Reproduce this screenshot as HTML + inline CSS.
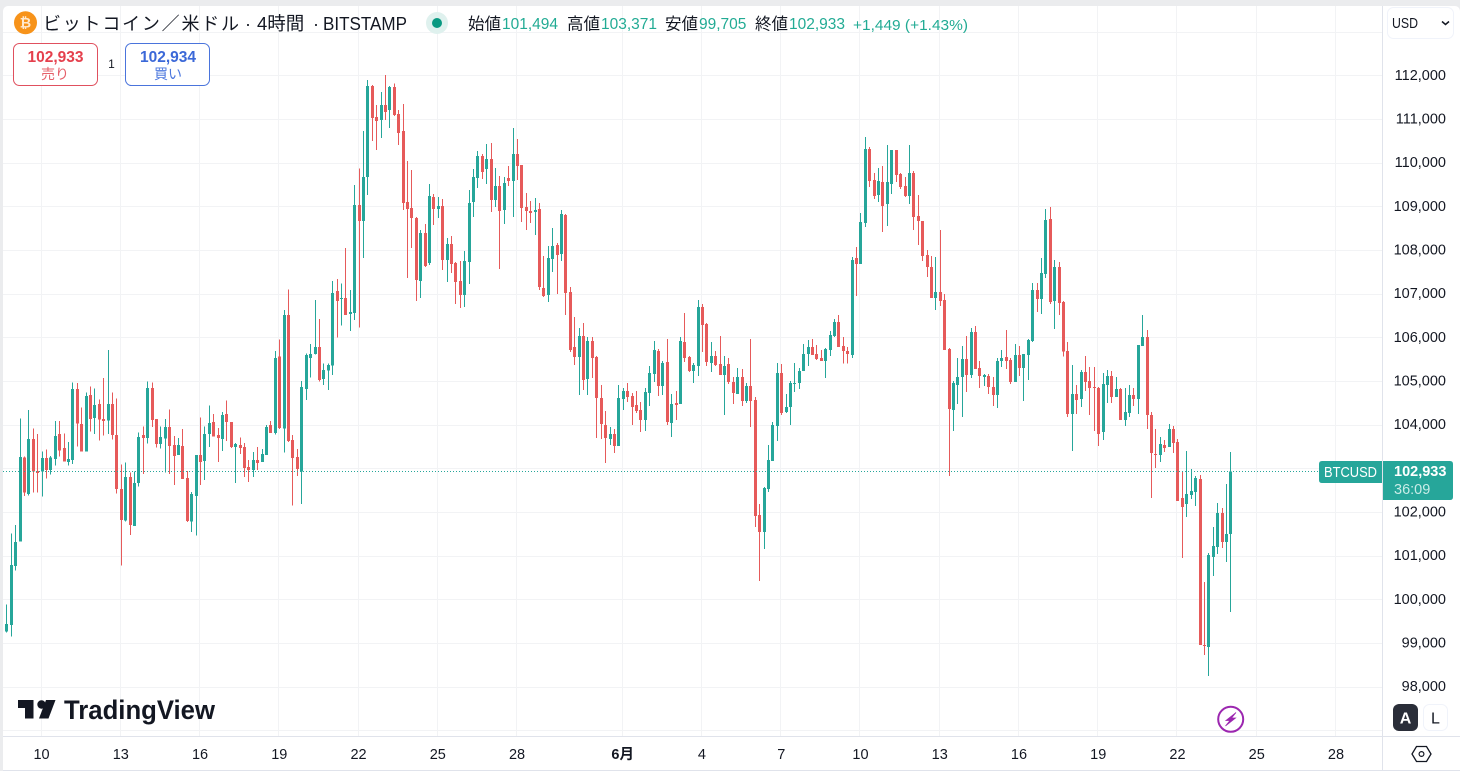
<!DOCTYPE html>
<html lang="ja">
<head>
<meta charset="utf-8">
<title>BTCUSD 4時間 チャート</title>
<style>
html,body{margin:0;padding:0;background:#fff;width:1460px;height:776px;overflow:hidden}
svg{display:block;font-family:"Liberation Sans","Noto Sans CJK JP",sans-serif}
</style>
</head>
<body>
<svg id="chart" width="1460" height="776" viewBox="0 0 1460 776">
  <rect x="0" y="0" width="1460" height="776" fill="#ebecee"/>
  <rect x="3" y="6" width="1457" height="770" rx="5" fill="#ffffff"/>
  <g id="grid"></g>

  <g>
    <path d="M18 700H33.500V718.500H25V708H18Z" fill="#131722"/>
    <circle cx="41.500" cy="704.500" r="4.200" fill="#131722"/>
    <path d="M46 700H55.500L48.500 718.500H39Z" fill="#131722"/>
    <text x="64" y="719" font-size="26.500" font-weight="700" fill="#131722" textLength="151" lengthAdjust="spacingAndGlyphs">TradingView</text>
  </g>

  <g id="candles"></g>
  <line id="last-price-line" x1="3" x2="1319" stroke="#26a69a" stroke-width="1" stroke-dasharray="1 2"/>

  <g>
    <circle cx="25.500" cy="22.700" r="11.500" fill="#f7931a"/>
    <text x="25.500" y="27.500" font-size="14" font-weight="700" fill="#ffe9cf" text-anchor="middle">₿</text>
    <text x="43" y="30" font-size="18" fill="#131722" textLength="196">ビットコイン／米ドル</text>
    <text x="245" y="30" font-size="18" fill="#131722">·</text>
    <text x="257" y="30" font-size="18.500" fill="#131722">4時間</text>
    <text x="313" y="30" font-size="18" fill="#131722">·</text>
    <text x="323" y="30" font-size="18" fill="#131722" textLength="84" lengthAdjust="spacingAndGlyphs">BITSTAMP</text>
    <circle cx="437" cy="23" r="11" fill="#dff1ee"/>
    <circle cx="437" cy="23" r="5" fill="#089981"/>

    <text x="468" y="29.500" font-size="16.500" fill="#131722">始値</text>
    <text x="502" y="29" font-size="15.500" fill="#22ab94">101,494</text>
    <text x="567" y="29.500" font-size="16.500" fill="#131722">高値</text>
    <text x="601" y="29" font-size="15.500" fill="#22ab94">103,371</text>
    <text x="665" y="29.500" font-size="16.500" fill="#131722">安値</text>
    <text x="699" y="29" font-size="15.500" fill="#22ab94">99,705</text>
    <text x="755" y="29.500" font-size="16.500" fill="#131722">終値</text>
    <text x="789" y="29" font-size="15.500" fill="#22ab94">102,933</text>
    <text x="853" y="30" font-size="15" fill="#22ab94" textLength="115" lengthAdjust="spacingAndGlyphs">+1,449 (+1.43%)</text>
  </g>

  <g>
    <rect x="13.500" y="43.500" width="84" height="42" rx="6" fill="#ffffff" stroke="#e0505e"/>
    <text x="55.500" y="62" font-size="15.500" font-weight="700" fill="#e5404d" text-anchor="middle">102,933</text>
    <text x="55" y="79" font-size="14" fill="#e5606a" text-anchor="middle">売り</text>
  </g>
  <text x="111.500" y="68" font-size="12" fill="#131722" text-anchor="middle">1</text>
  <g>
    <rect x="125.500" y="43.500" width="84" height="42" rx="6" fill="#ffffff" stroke="#4a74dc"/>
    <text x="168" y="62" font-size="15.500" font-weight="700" fill="#3b68d8" text-anchor="middle">102,934</text>
    <text x="168" y="79" font-size="14" fill="#4d78de" text-anchor="middle">買い</text>
  </g>

  <line x1="1382.500" x2="1382.500" y1="6" y2="770" stroke="#e0e3eb"/>
  <line x1="3" x2="1460" y1="736.500" y2="736.500" stroke="#e0e3eb"/>
  <line x1="3" x2="1460" y1="770.500" y2="770.500" stroke="#e0e3eb"/>
  <rect x="0" y="771" width="1460" height="5" fill="#ffffff"/>

  <g id="price-axis"></g>
  <g id="time-axis"></g>

  <g>
    <rect x="1387.500" y="7.500" width="66" height="31" rx="6" fill="#ffffff" stroke="#f0f3fa"/>
    <text x="1392" y="28" font-size="14.500" fill="#131722" textLength="26" lengthAdjust="spacingAndGlyphs">USD</text>
    <path d="M1442 21.500L1445.500 24.500L1449 21.500" fill="none" stroke="#131722" stroke-width="1.500"/>
  </g>

  <g>
    <path d="M1322 461H1382V483H1322Q1319 483 1319 480V464Q1319 461 1322 461Z" fill="#26a69a"/>
    <text x="1324" y="477" font-size="14.500" fill="#ffffff" textLength="53" lengthAdjust="spacingAndGlyphs">BTCUSD</text>
    <path d="M1383 461H1450Q1453 461 1453 464V497Q1453 500 1450 500H1383Z" fill="#26a69a"/>
    <text x="1394" y="476" font-size="14.500" font-weight="700" fill="#ffffff">102,933</text>
    <text x="1394" y="494" font-size="14.500" fill="#c9ece7">36:09</text>
  </g>

  <g>
    <circle cx="1230.700" cy="719.300" r="12.500" fill="#ffffff" stroke="#9c27b0" stroke-width="2"/>
    <path d="M1236 712.500L1226 720.500H1230L1225.500 726L1235.500 718H1231.500Z" fill="#9c27b0" stroke="#9c27b0" stroke-width="0.800"/>
  </g>

  <g>
    <rect x="1393" y="704" width="25" height="27" rx="6" fill="#2a2e39"/>
    <text x="1405.500" y="723.500" font-size="16" font-weight="700" fill="#ffffff" text-anchor="middle">A</text>
  </g>
  <g>
    <rect x="1423.500" y="704.500" width="24" height="26" rx="6" fill="#ffffff" stroke="#f0f3fa"/>
    <text x="1435.500" y="723.500" font-size="16" fill="#131722" text-anchor="middle">L</text>
  </g>
  <g>
    <path d="M1416.500 746.500H1426.500L1431 754L1426.500 761.500H1416.500L1412 754Z" fill="none" stroke="#131722" stroke-width="1.300"/>
    <circle cx="1421.500" cy="754" r="2.400" fill="none" stroke="#131722" stroke-width="1.200"/>
  </g>
</svg>

<script>
const priceTicks = [113000,112000,111000,110000,109000,108000,107000,106000,105000,104000,103000,102000,101000,100000,99000,98000,97000];
const priceTickLabels = ["","112,000","111,000","110,000","109,000","108,000","107,000","106,000","105,000","104,000","103,000","102,000","101,000","100,000","99,000","98,000",""];
const timeTickLabels = ["10","13","16","19","22","25","28","6月","4","7","10","13","16","19","22","25","28"];
const timeTickBars = [8,26,44,62,80,98,116,140,158,176,194,212,230,248,266,284,302];
const lastPrice = 102933;

const opens = [
99260,99413,100764,101321,103245,102413,103672,102939,102924,103237,
102962,103214,103786,103466,103145,103191,104817,104015,103382,104680,
104153,104473,104130,104092,104473,103764,102527,101810,102802,101680,
102664,103764,103695,104840,104130,103557,103687,103947,103535,103306,
103512,102779,101779,102367,103306,103168,103786,104061,103764,103672,
104244,104061,103489,103535,103489,103031,102962,103191,103145,103306,
103993,103809,105558,103909,106512,103649,103260,102924,104817,105527,
105619,105779,105046,105237,105352,107061,106878,106901,106535,106557,
109031,108664,109672,111756,111046,110977,111321,111206,111733,111114,
110725,109099,108962,108733,107290,108389,107702,109214,108939,109008,
107771,108138,107702,107290,106970,107725,109099,109649,110153,109855,
110084,109145,109466,108916,109649,109580,110198,109947,108985,108893,
108870,108939,107130,106970,107794,108115,107909,108802,107038,105779,
105550,106031,105046,105916,105550,104611,103993,103672,103787,103512,
104588,104771,104657,104451,104336,104107,104725,105160,105687,104886,
105435,104038,104496,104474,105893,105550,105229,105344,106695,106305,
105412,105573,105389,105138,105389,104977,104703,105092,104542,104886,
104565,101932,101542,102527,103168,103970,105183,104290,104405,104931,
104954,105229,105618,105779,105618,105527,105458,105710,106031,106351,
105802,105687,105596,107817,107680,108618,110313,109603,109260,109557,
109053,109511,110290,109740,109466,109237,109763,108779,108664,107886,
107611,106901,107038,106855,105733,104336,104909,105092,105504,105138,
106122,105298,105092,105115,104863,104680,105458,105550,105481,104977,
105596,105298,105596,105916,107084,106878,107451,108710,106832,107611,
106809,105687,104245,104702,104588,105206,105000,104863,104840,103832,
104909,105115,104634,104817,104107,104267,104680,104588,105802,106008,
104222,103329,103306,103535,103489,103901,103603,102321,102184,102390,
102458,102756,98955,98909,100970,101199,101977,101313,101494];

const highs = [
99886,101512,101703,104145,103267,104336,103916,103786,103390,103435,
103283,104084,104084,103802,103603,104970,104954,104397,104741,104878,
104832,104580,105069,105710,104741,104603,103092,103138,102909,102932,
103825,103962,104993,104970,104130,103962,104130,104351,103741,103695,
103901,102939,102458,103306,104168,103962,104443,104244,103924,104290,
104557,104061,103580,103710,103580,103191,103374,103489,103443,103993,
104084,105687,105955,106626,107099,103764,103443,105000,105634,105848,
106855,106420,105405,105405,107290,107336,107237,108046,107084,109489,
109870,110725,111893,111779,111321,111618,112008,111756,111817,111206,
111343,110038,109832,108756,108458,108596,109512,109283,109214,109168,
108275,108321,107725,107748,107977,109374,109855,110267,110198,110427,
110450,109878,109695,109672,109924,110794,110542,109947,109305,109122,
109191,109076,107863,108092,108504,108160,108916,108825,107153,106466,
106214,106328,106008,106008,105573,104909,104313,103947,103901,104909,
104840,104954,104725,104771,104519,104840,105344,105916,105733,105458,
105962,104703,104771,106008,106557,105573,105412,106855,106763,106328,
105893,105687,106031,105573,105527,105092,105298,105275,104954,105962,
104634,102184,102573,103535,104061,105412,105389,104703,105000,105412,
105298,105847,105939,105962,105825,105710,105756,106145,106420,106512,
106008,105779,107840,108069,108847,110588,110359,109763,109878,109924,
110405,110290,110290,109763,109672,110405,109809,109260,108664,108000,
107863,107840,108458,106993,105756,105000,105527,105802,106031,106214,
106260,105458,105161,105161,105092,105527,105710,106168,105527,105848,
105802,105619,105962,107244,107244,107817,108939,108985,107771,107725,
106832,105893,105367,104909,105252,105573,105321,105321,104863,105183,
105252,105229,105092,104840,104840,104909,104840,105825,106512,106168,
104290,103901,103718,103649,104016,103970,103672,102916,103397,102985,
102825,102848,100397,101062,101657,102206,102092,102642,103371];

const lows = [
99237,99146,100657,101321,102367,102374,102443,102443,102351,102764,
102855,103061,103267,103153,103061,103099,103496,103382,103382,103840,
103786,103634,103748,103786,103664,102428,100771,101779,101474,101680,
102580,102871,103565,103947,103474,103458,102901,102871,102619,103306,
102756,101771,101542,101458,102619,102733,103489,103725,103145,103397,
103626,103466,102664,103329,102802,102687,102802,102962,103145,103306,
103809,103771,103900,103360,103600,102145,102825,102184,104565,105077,
105612,104985,104909,104794,105138,105993,106267,106512,106145,106397,
106222,107817,109260,110496,110290,110565,110977,110794,111069,110405,
108916,107359,108046,106832,106901,107611,107657,108573,108733,107542,
107267,107473,106764,106672,106695,107222,108756,109420,109626,109512,
108870,108985,107565,108596,109466,108756,109603,108641,108458,108618,
108344,107084,106924,106809,107496,106993,107748,106512,105664,105367,
104680,104794,104680,105069,103695,103672,103122,103535,103351,103512,
104336,104519,103993,104267,103832,103855,104428,104977,104657,104680,
103993,103718,104107,104474,105435,105206,104954,105115,105664,105344,
105206,105344,105138,104222,104931,104474,104703,104428,104496,103947,
101657,100420,101153,102458,103168,103626,104222,104267,103993,104748,
104817,105229,105344,105596,105481,105458,105069,105573,106008,105779,
105397,105397,105527,106947,107680,108527,109443,109168,109099,108412,
108550,109282,109557,109397,109214,109053,108458,108115,107748,107382,
106901,106626,106718,105710,102825,103855,104474,104176,104748,105069,
105275,104840,104886,104703,104428,104382,105321,105275,104932,104977,
105115,104542,105023,105893,106580,106535,107359,106763,106191,106512,
105557,104176,103397,104245,104405,104771,104222,103855,103512,103649,
104496,104496,104634,104107,103970,104176,104428,104245,105802,103901,
102321,103008,103145,103374,103489,103351,102252,100947,101886,102298,
102138,98955,98726,98245,100535,101039,101176,100855,99705];

const closes = [
99436,100787,101313,103260,102443,103672,102924,102893,103237,102962,
103245,103741,103405,103153,103214,104817,104023,103382,104657,104130,
104451,104115,104084,104473,103764,102527,101817,102802,101703,102664,
103718,103695,104840,104107,103557,103718,103947,103512,103283,103535,
102756,101794,102413,103306,103145,103786,104038,103725,103695,104222,
104061,103489,103557,103466,103008,102962,103191,103122,103329,103947,
103809,105527,103924,106512,103627,103237,102985,104863,105596,105619,
105779,105023,105252,105367,107015,106832,106901,106512,106580,109031,
108664,109672,111756,111023,110954,111321,111160,111733,111092,110679,
109076,108939,108733,107313,108389,107634,109237,108939,109008,107771,
108138,107680,107267,106970,107748,109076,109672,110153,109786,110084,
109145,109466,108893,109534,109580,110198,109924,108962,108893,108847,
108916,107153,106947,107817,108092,107886,108825,107015,105710,105550,
106031,105023,105916,105527,104611,104016,103695,103787,103512,104611,
104771,104634,104405,104313,104107,104748,105183,105710,104886,105412,
104061,104474,104451,105916,105527,105229,105367,106695,106283,105435,
105573,105367,105138,105344,104977,104725,105092,104542,104886,104542,
101909,101542,102550,103191,103993,105183,104267,104405,104954,104954,
105229,105618,105779,105596,105504,105458,105733,106054,106351,105779,
105687,105619,107771,107680,108641,110313,109580,109237,109580,109008,
109557,110290,109718,109443,109237,109763,108756,108664,107863,107611,
106901,107038,106832,105710,104359,104955,105092,105504,105138,106122,
105275,105115,105138,104863,104680,105458,105527,105458,104977,105596,
105298,105619,105939,107084,106878,107473,108687,106809,107611,106786,
105672,104245,104702,104565,105206,104977,104840,104840,103787,104931,
105115,104634,104817,104107,104290,104680,104588,105825,106008,104222,
103351,103306,103558,103466,103901,103580,102252,102115,102413,102481,
102779,98955,98932,101016,101222,101977,101313,101497,102933];

const SVG_NS = "http://www.w3.org/2000/svg";
const UP_COLOR = "#26a69a";
const DOWN_COLOR = "#e65a5a";
const GRID_COLOR = "#f2f3f5";

function xScale(barIndex) { return 6.3 + 4.403 * barIndex; }
function yScale(price) { return 381 + (105000 - price) * 0.04367; }

function make(tag, attrs) {
  const el = document.createElementNS(SVG_NS, tag);
  for (const key in attrs) el.setAttribute(key, attrs[key]);
  return el;
}

const gridGroup = document.getElementById("grid");
const candleGroup = document.getElementById("candles");
const priceAxis = document.getElementById("price-axis");
const timeAxis = document.getElementById("time-axis");

priceTicks.forEach(function (value, k) {
  const y = Math.round(yScale(value)) + 0.5;
  const line = make("line", { x1: 3, x2: 1382, y1: y, y2: y, stroke: GRID_COLOR });
  
  
  gridGroup.appendChild(line);
  if (priceTickLabels[k]) {
    const label = make("text", { x: 1446, y: yScale(value) + 4.5, "font-size": 14.5, fill: "#131722", "text-anchor": "end" });
    
    
    label.textContent = priceTickLabels[k];
    priceAxis.appendChild(label);
  }
});

timeTickBars.forEach(function (bar, k) {
  const x = Math.round(xScale(bar)) - 0.5;
  const line = make("line", { x1: x, x2: x, y1: 6, y2: 736, stroke: GRID_COLOR });
  
  
  gridGroup.appendChild(line);
  const isMonth = timeTickLabels[k].indexOf("月") >= 0;
  const label = make("text", { x: xScale(bar), y: 759, "font-size": 14.5, fill: "#131722", "text-anchor": "middle", "font-weight": isMonth ? 700 : 400 });
  
  
  label.textContent = timeTickLabels[k];
  timeAxis.appendChild(label);
});

closes.forEach(function (close, i) {
  const open = opens[i];
  const color = close >= open ? UP_COLOR : DOWN_COLOR;
  const cx = Math.round(xScale(i));
  const g = make("g", { "shape-rendering": "crispEdges" });
  
  
  const yHigh = yScale(highs[i]);
  const yLow = yScale(lows[i]);
  const wick = make("rect", { x: cx, y: yHigh, width: 1, height: Math.max(1, yLow - yHigh), fill: color });
  
  
  g.appendChild(wick);
  const yTop = yScale(Math.max(open, close));
  const yBottom = yScale(Math.min(open, close));
  const body = make("rect", { x: cx - 1, y: yTop, width: 3, height: Math.max(1, yBottom - yTop), fill: color });
  
  
  g.appendChild(body);
  candleGroup.appendChild(g);
});

const lastLine = document.getElementById("last-price-line");
lastLine.setAttribute("y1", Math.round(yScale(lastPrice)) + 0.5);
lastLine.setAttribute("y2", Math.round(yScale(lastPrice)) + 0.5);
</script>
</body>
</html>
